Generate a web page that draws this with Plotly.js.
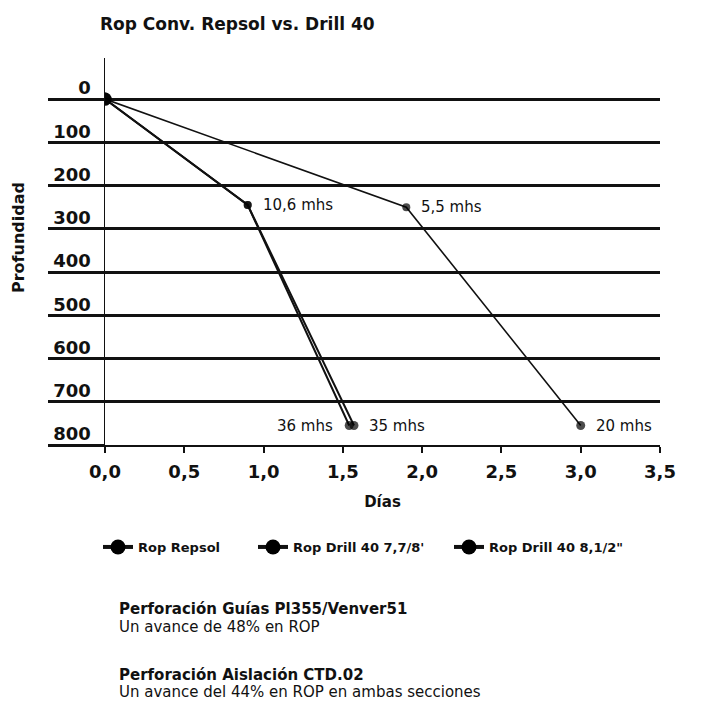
<!DOCTYPE html>
<html>
<head>
<meta charset="utf-8">
<script src="https://cdn.plot.ly/plotly-3.0.1.min.js"></script>
<style>
  html, body { margin: 0; padding: 0; background: #fff; }
  #chart { width: 706px; height: 707px; }
</style>
</head>
<body>
<div id="chart"></div>
<script>
// Rate of penetration: days vs. depth for each drilling setup
const seriesNames = ['Rop Repsol', "Rop Drill 40 7,7/8'", 'Rop Drill 40 8,1/2"'];

const daysRepsol   = [0, 1.9, 3.0];
const depthRepsol  = [0, 250, 755];
const labelsRepsol = ['', '5,5 mhs', '20 mhs'];

const daysDrill778   = [0, 0.9, 1.54];
const depthDrill778  = [0, 245, 755];
const labelsDrill778 = ['', '10,6 mhs', '36 mhs'];

const daysDrill812   = [0, 0.9, 1.57];
const depthDrill812  = [0, 245, 755];
const labelsDrill812 = ['', '', '35 mhs'];

const xTicks = [0, 0.5, 1, 1.5, 2, 2.5, 3, 3.5];
const yTicks = [0, 100, 200, 300, 400, 500, 600, 700, 800];

const notes = [
  {text: 'Perforación Guías Pl355/Venver51', bold: true},
  {text: 'Un avance de 48% en ROP', bold: false},
  {text: 'Perforación Aislación CTD.02', bold: true},
  {text: 'Un avance del 44% en ROP en ambas secciones', bold: false}
];

// plot-area geometry (px) used to place free text
const M = {l: 105, r: 46, t: 58, b: 262};
const W = 706 - M.l - M.r, H = 707 - M.t - M.b;
const px2x = px => (px - M.l) / W;
const py2y = py => (707 - M.b - py) / H;

const FONT = 'DejaVu Sans';
const INK = '#111';

const series = [
  {x: daysRepsol, y: depthRepsol, labels: labelsRepsol, width: 1.6},
  {x: daysDrill778, y: depthDrill778, labels: labelsDrill778, width: 2},
  {x: daysDrill812, y: depthDrill812, labels: labelsDrill812, width: 2}
];

// marker size per point: big dot at the common origin, small dots elsewhere
const dotSize = (k, n) => k === 0 ? 13 : (k === n - 1 ? 9 : 8);

const traces = [];
series.forEach((s, i) => {
  traces.push({
    type: 'scatter', mode: 'lines+markers',
    x: s.x, y: s.y, name: seriesNames[i], showlegend: false,
    line: {color: INK, width: s.width},
    marker: {color: '#000', size: s.x.map((v, k) => dotSize(k, s.x.length)), line: {width: 0}},
    hoverinfo: 'x+y'
  });
});
// legend keys, one legend box per series
const legendIds = ['legend', 'legend2', 'legend3'];
seriesNames.forEach((name, i) => {
  traces.push({
    type: 'scatter', mode: 'lines+markers', x: [null], y: [null], name: name,
    legend: legendIds[i], showlegend: true,
    line: {color: INK, width: 4}, marker: {color: '#000', size: 15, line: {width: 0}}
  });
});

// point labels
const leftLabels = new Set(['36 mhs']);
const annotations = [];
series.forEach(s => {
  s.labels.forEach((lab, k) => {
    if (!lab) return;
    const left = leftLabels.has(lab);
    annotations.push({
      x: s.x[k], y: s.y[k], xref: 'x', yref: 'y', text: lab, showarrow: false,
      xanchor: left ? 'right' : 'left', yanchor: 'middle',
      xshift: left ? -14 : 13,
      font: {family: FONT, size: 15, color: INK}
    });
  });
});

// vertical axis title
annotations.push({
  xref: 'paper', yref: 'paper', x: px2x(18), y: py2y(238), text: 'Profundidad',
  textangle: -90, showarrow: false, xanchor: 'center', yanchor: 'middle',
  font: {family: FONT, size: 16, weight: 'bold', color: INK}
});

// notes under the legend
const noteRows = [609, 627, 675, 692];
notes.forEach((n, i) => {
  annotations.push({
    xref: 'paper', yref: 'paper', x: px2x(117), y: py2y(noteRows[i]), text: n.text,
    showarrow: false, xanchor: 'left', yanchor: 'middle',
    font: {family: FONT, size: 15, weight: n.bold ? 'bold' : 'normal', color: INK}
  });
});

const legendFont = {family: FONT, size: 13, weight: 'bold', color: INK};
const legendBox = left => ({
  orientation: 'h', x: px2x(left), xanchor: 'left', y: py2y(532), yanchor: 'top',
  font: legendFont, bgcolor: 'rgba(0,0,0,0)'
});

const layout = {
  width: 706, height: 707,
  margin: M,
  paper_bgcolor: '#fff', plot_bgcolor: '#fff',
  separators: ',.',
  font: {family: FONT, color: INK},
  title: {
    text: 'Rop Conv. Repsol vs. Drill 40',
    x: 100 / 706, xanchor: 'left', xref: 'container',
    y: 1 - 24 / 707, yanchor: 'middle', yref: 'container',
    font: {family: FONT, size: 17, weight: 'bold', color: INK}
  },
  xaxis: {
    range: [0, 3.5], tickvals: xTicks, tickformat: '.1f',
    showgrid: false, zeroline: false,
    showline: true, linecolor: INK, linewidth: 2,
    ticks: 'outside', ticklen: 6, tickwidth: 2, tickcolor: INK,
    ticklabelstandoff: 3,
    tickfont: {family: FONT, size: 18, weight: 'bold', color: INK},
    title: {text: 'Días', standoff: 16, font: {family: FONT, size: 15, weight: 'bold', color: INK}}
  },
  yaxis: {
    range: [800, -95], tickvals: yTicks,
    showgrid: true, gridcolor: INK, gridwidth: 3, zeroline: false,
    showline: true, linecolor: INK, linewidth: 1.5,
    ticks: 'outside', ticklen: 56, tickwidth: 3, tickcolor: INK,
    ticklabelstandoff: -47, ticklabelshift: 11,
    tickfont: {family: FONT, size: 18, weight: 'bold', color: INK}
  },
  legend: legendBox(98),
  legend2: legendBox(253),
  legend3: legendBox(449),
  annotations: annotations,
  showlegend: true
};

Plotly.newPlot('chart', traces, layout, {staticPlot: true, displayModeBar: false});
</script>
</body>
</html>
